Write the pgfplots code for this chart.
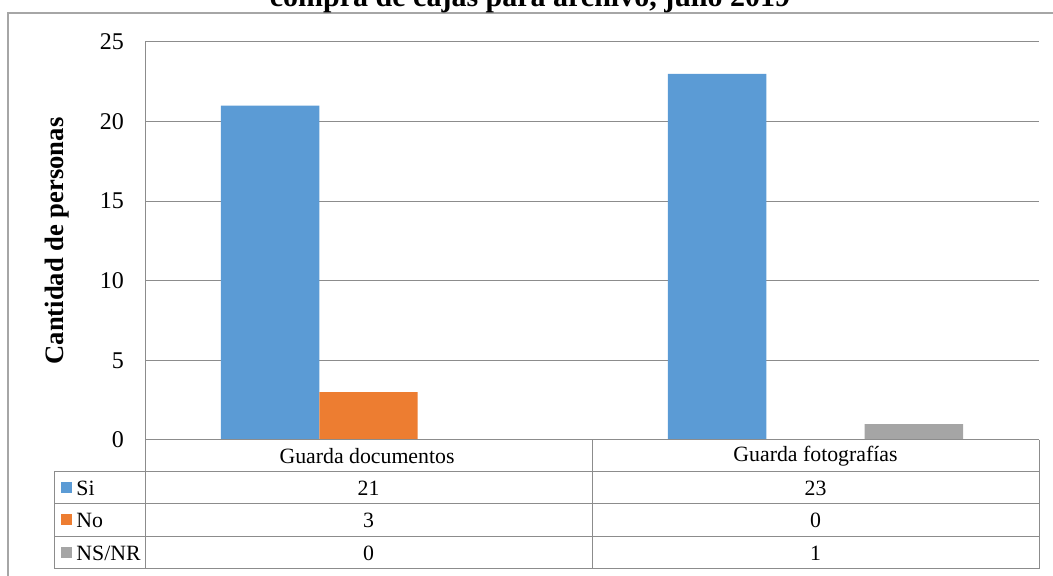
\documentclass[border=0pt]{standalone}
\usepackage{fontspec}
\setmainfont{Liberation Serif}
\usepackage{pgfplots}
\usepackage{pgfplotstable}
\pgfplotsset{compat=1.18}

\definecolor{siblue}{HTML}{5B9BD5}
\definecolor{noorange}{HTML}{ED7D31}
\definecolor{nsgray}{HTML}{A5A5A5}
\definecolor{rulegray}{HTML}{8C8C8C}
\definecolor{framegray}{HTML}{A6A6A6}

% Respuestas por pregunta (posiciones 0.5 y 1.5 del eje x)
\pgfplotstableread{
x   si no ns
0.5 21 3  0
1.5 23 0  1
}\datos

\newcommand\valor[2]{\pgfplotstablegetelem{#1}{#2}\of\datos\pgfplotsretval}

\begin{document}
\begin{tikzpicture}[x=0.5pt,y=0.5pt]
\path[use as bounding box, clip] (0,0) rectangle (1053,576);

% marco exterior del grafico
\draw[framegray, line width=1pt] (8,-10) -- (8,563) -- (1070,563);

% titulo
\node[font=\fontsize{15}{18}\selectfont\bfseries, anchor=base] at (530,569)
  {compra de cajas para archivo, julio 2019};

\begin{axis}[
  at={(72.5pt,68pt)}, anchor=south west,
  scale only axis, width=447pt, height=199pt,
  xmin=0, xmax=2, ymin=0, ymax=25,
  xtick=\empty, ytick={0,5,...,25},
  ymajorgrids, grid style={rulegray, line width=0.5pt},
  axis line style={draw=none},
  ytick style={draw=none},
  yticklabel style={font=\fontsize{12}{14}\selectfont, xshift=-7pt},
  /pgf/number format/assume math mode=true,
  ybar, bar width=0.22,
]
\addplot[fill=siblue, draw=none, bar shift=-0.22] table[x=x, y=si] {\datos};
\addplot[fill=noorange, draw=none, bar shift=0] table[x=x, y=no] {\datos};
\addplot[fill=nsgray, draw=none, bar shift=0.22] table[x=x, y=ns] {\datos};
\end{axis}

% titulo del eje y
\node[font=\fontsize{13.3}{16}\selectfont\bfseries, rotate=90] at (57,335)
  {Cantidad de personas};

% tabla de datos
\begin{scope}[rulegray, line width=0.5pt]
\draw (145,534) -- (145,7);
\draw (145,136) -- (1039,136);
\draw (592,136) -- (592,7);
\draw (1039,136) -- (1039,7);
\draw (54,104) -- (54,7);
\foreach \yy in {104,72,39,7} \draw (54,\yy) -- (1039,\yy);
\end{scope}

\begin{scope}[font=\fontsize{10.9}{13}\selectfont]
\node at (367,120) {Guarda documentos};
\node at (815.5,120) {Guarda fotografías};
% leyenda
\fill[siblue]   (61,83)  rectangle (72,94);
\fill[noorange] (61,50.5) rectangle (72,61.5);
\fill[nsgray]   (61,18)  rectangle (72,29);
\node[anchor=west, inner sep=0pt] at (76,88) {Si};
\node[anchor=west, inner sep=0pt] at (76,55.5) {No};
\node[anchor=west, inner sep=0pt] at (76,23) {NS/NR};
% valores
\node at (368.5,88)   {\valor{0}{si}};
\node at (815.5,88)   {\valor{1}{si}};
\node at (368.5,55.5) {\valor{0}{no}};
\node at (815.5,55.5) {\valor{1}{no}};
\node at (368.5,23)   {\valor{0}{ns}};
\node at (815.5,23)   {\valor{1}{ns}};
\end{scope}
\end{tikzpicture}
\end{document}
